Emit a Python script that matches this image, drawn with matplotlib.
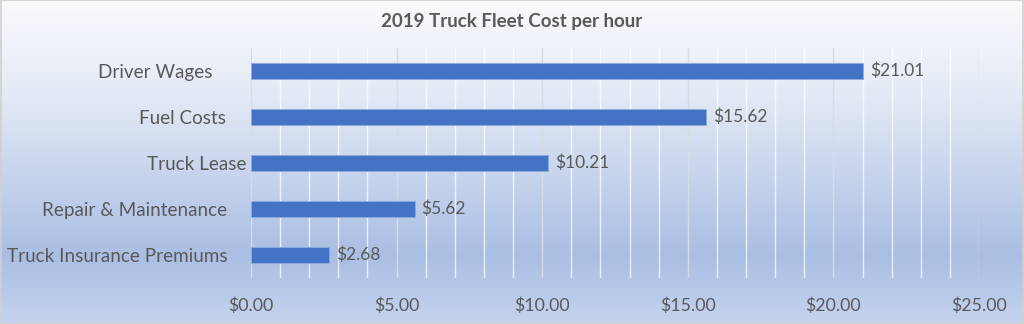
import numpy as np
import matplotlib
matplotlib.use("Agg")
import matplotlib.pyplot as plt
from matplotlib.colors import LinearSegmentedColormap
from matplotlib.transforms import ScaledTranslation
from matplotlib.ticker import MultipleLocator, FuncFormatter
from matplotlib.patches import Rectangle

categories = ["Driver Wages", "Fuel Costs", "Truck Lease", "Repair & Maintenance", "Truck Insurance Premiums"]
values = [21.01, 15.62, 10.21, 5.62, 2.68]
title = "2019 Truck Fleet Cost per hour"
x_ticks = [0, 5, 10, 15, 20, 25]

plt.rcParams['font.family'] = ['Lato', 'DejaVu Sans']
txt = '#595959'

fig = plt.figure(figsize=(10.24, 3.24), dpi=100)

# gradient background
bg = fig.add_axes([0, 0, 1, 1], zorder=-10)
cmap = LinearSegmentedColormap.from_list('bg', [
    (0.0, (0.975, 0.98, 0.992)),
    (0.3, (0.89, 0.915, 0.96)),
    (0.79, (0.665, 0.745, 0.892)),
    (1.0, (0.77, 0.83, 0.935))])
grad = np.linspace(0, 1, 400).reshape(-1, 1)
bg.imshow(grad, aspect='auto', cmap=cmap, extent=[0, 1, 0, 1], origin='upper')
bg.set_xlim(0, 1); bg.set_ylim(0, 1)
bg.axis('off')
bg.add_patch(Rectangle((0.0005, 0.0015), 0.999, 0.997, fill=False, edgecolor='#d0d0d0', lw=1.2,
                       transform=bg.transAxes))

ax = fig.add_axes([251/1024, 1 - 278/324, (979-251)/1024, (278-48)/324])
ax.set_facecolor('none')
y = np.arange(len(categories))
bars = ax.barh(y, values, height=0.35, color='#4472c4', edgecolor='#8faadc', linewidth=0.6, zorder=3)
ax.set_ylim(len(categories) - 0.5, -0.5)
ax.set_xlim(0, 25)
ax.set_yticks(y)
ax.set_yticklabels(categories, fontsize=13.6, color=txt)
ax.set_xticks(x_ticks)
ax.xaxis.set_major_formatter(FuncFormatter(lambda v, p: f"${v:.2f}"))
ax.xaxis.set_minor_locator(MultipleLocator(1))
ax.tick_params(axis='x', which='both', length=0, labelsize=12.8, labelcolor=txt, pad=14)
ax.tick_params(axis='y', length=0, pad=3)
ax.grid(axis='x', which='minor', color='white', alpha=0.75, lw=1.0, zorder=1)
ax.grid(axis='x', which='major', color='#d6dbe4', lw=1.0, zorder=1)
for s in ax.spines.values():
    s.set_visible(False)

# per-label offsets mimic the original label spacing
offsets = [34, 21, 0, 20, 19]
for lbl, off in zip(ax.get_yticklabels(), offsets):
    lbl.set_transform(lbl.get_transform() + ScaledTranslation(-off / 100, 0, fig.dpi_scale_trans))

for b, v in zip(bars, values):
    ax.annotate(f"${v:.2f}", (v, b.get_y() + b.get_height() / 2), xytext=(5, 0),
                textcoords='offset points', va='center', ha='left', fontsize=12.5, color=txt)

fig.text(0.5, 1 - 22/324, title, ha='center', va='center', fontsize=13.5, fontweight='bold', color=txt)

fig.savefig('out.png', dpi=100)
